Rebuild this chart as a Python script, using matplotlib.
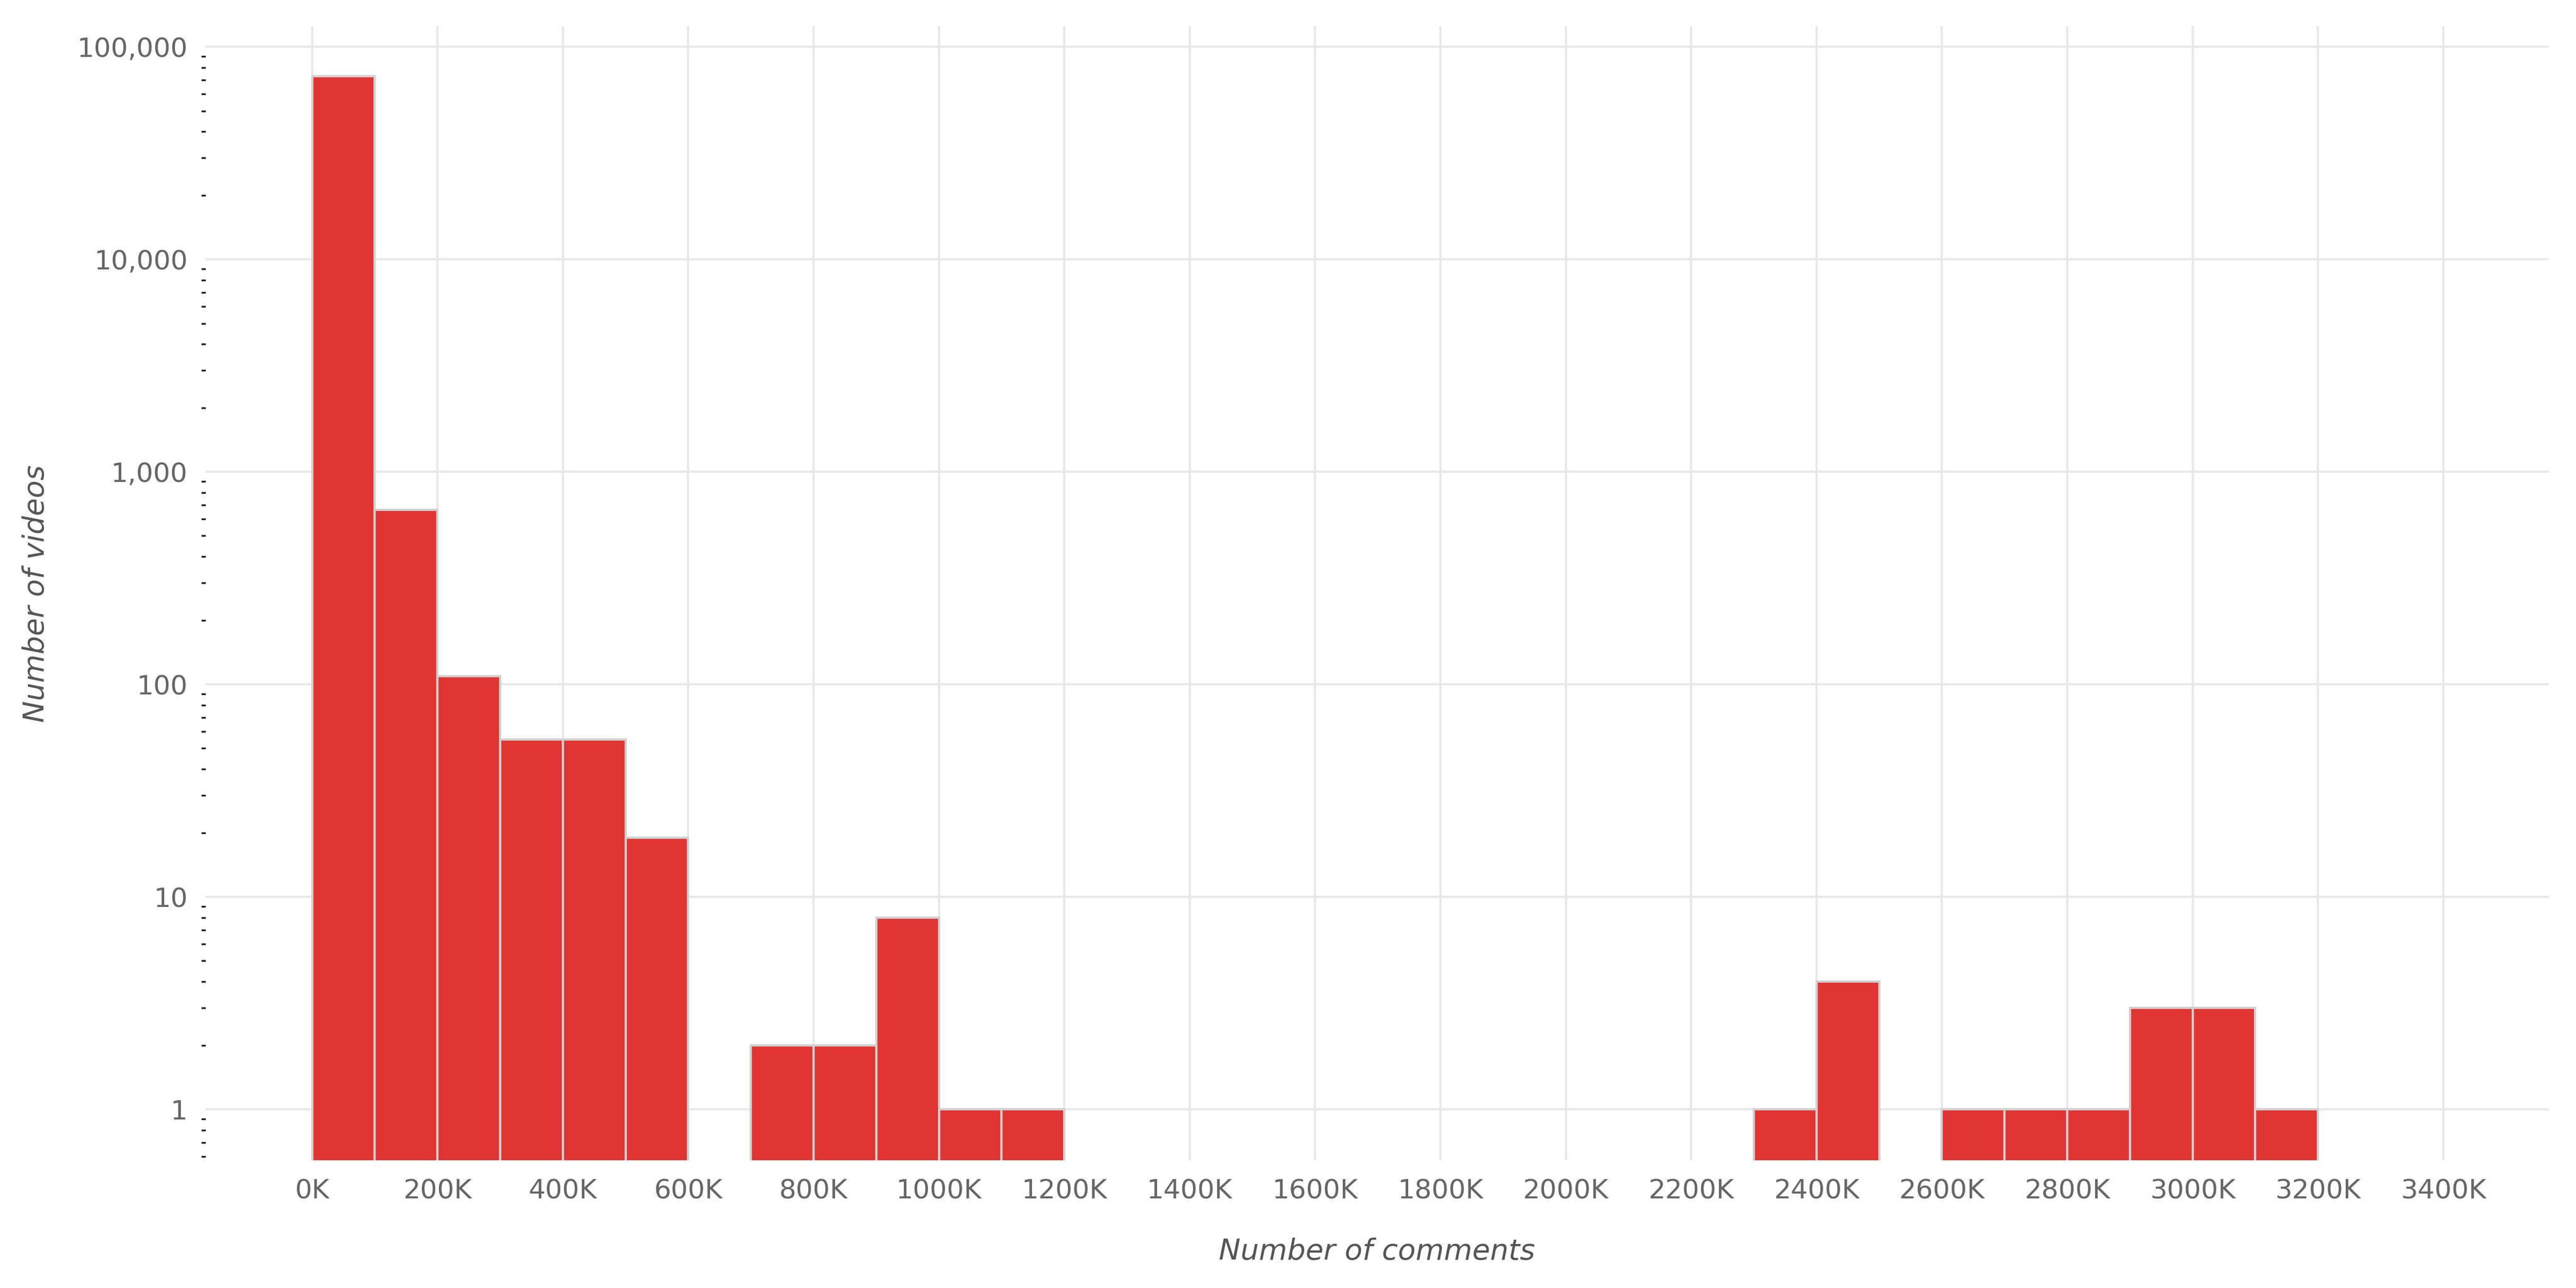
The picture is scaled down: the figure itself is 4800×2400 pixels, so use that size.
import numpy as np
import matplotlib
matplotlib.use("Agg")
import matplotlib.pyplot as plt
from matplotlib.ticker import FuncFormatter, FixedLocator, LogLocator, NullFormatter

# histogram of comment counts, bins of 100K
bin_width = 100000
bin_starts = np.arange(0, 3200000, bin_width)
counts = [72600, 664, 109, 55, 55, 19, 0, 2, 2, 8, 1, 1,
          0, 0, 0, 0, 0, 0, 0, 0, 0, 0, 0, 1, 4, 0, 1, 1, 1, 3, 3, 1]

x_ticks = np.arange(0, 3600000, 200000)
y_ticks = [1, 10, 100, 1000, 10000, 100000]

counts = np.asarray(counts)
mask = counts > 0

fig = plt.figure(figsize=(16, 8), dpi=300)
ax = fig.add_axes([0.0798, 0.099, 0.9096, 0.8806])

ax.bar(bin_starts[mask], counts[mask], width=bin_width, align='edge',
       color='#E03532', edgecolor='#d0d0d0', linewidth=1.0, zorder=3)

ax.set_yscale('log')
ax.set_ylim(0.575, 1.25e5)
ax.set_xlim(-170000, 3568000)

ax.xaxis.set_major_locator(FixedLocator(x_ticks))
ax.xaxis.set_major_formatter(FuncFormatter(lambda v, p: f"{v/1000:.0f}K"))
ax.yaxis.set_major_locator(FixedLocator(y_ticks))
ax.yaxis.set_major_formatter(FuncFormatter(lambda v, p: f"{v:,.0f}"))
ax.yaxis.set_minor_locator(LogLocator(base=10, subs=np.arange(2, 10)))
ax.yaxis.set_minor_formatter(NullFormatter())

ax.grid(True, which='major', color='#e8e8e8', linewidth=1.0, zorder=0)
for s in ax.spines.values():
    s.set_visible(False)

ax.tick_params(axis='both', which='major', length=0, labelsize=12,
               labelcolor='#666666')
ax.tick_params(axis='x', pad=8)
ax.tick_params(axis='y', pad=8)
ax.tick_params(axis='y', which='minor', length=2, width=0.8,
               color='#222222', pad=2)

ax.set_xlabel('Number of comments', fontsize=13, style='italic',
              color='#555555', labelpad=15)
ax.set_ylabel('Number of videos', fontsize=13, style='italic',
              color='#555555', labelpad=12)

fig.savefig('out.png', dpi=300)
